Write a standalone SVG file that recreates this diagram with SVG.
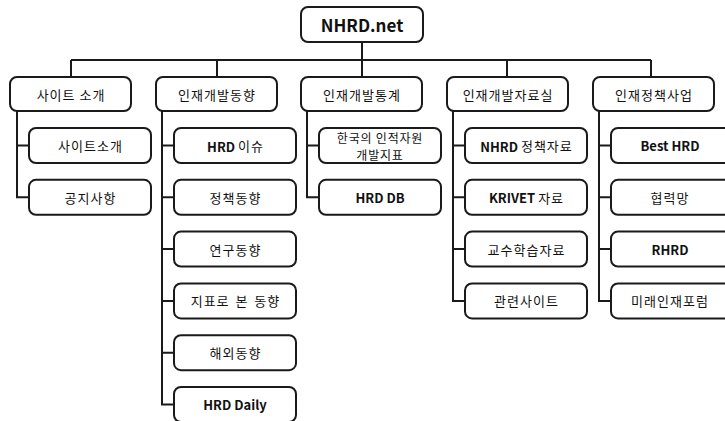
<svg xmlns="http://www.w3.org/2000/svg" width="725" height="421" viewBox="0 0 725 421">
<style>
.box{fill:#fff;stroke:#1a1a1a;stroke-width:2}
.ln{fill:none;stroke:#1a1a1a;stroke-width:2}
text{font-family:"Noto Sans CJK KR","Noto Sans",sans-serif;fill:#111;text-anchor:middle;dominant-baseline:central}
.t0{font-size:17px;font-weight:bold}
.t1{font-size:13px;letter-spacing:1px}
.t2{font-size:13px;letter-spacing:1px}
.t3{font-size:12px;letter-spacing:0.8px}
.b{font-weight:bold;letter-spacing:0}
</style>
<rect width="725" height="421" fill="#fff"/>
<g id="connectors">
<path class="ln" d="M362,42V60M71,60H651M71,60V77M217,60V77M362,60V77M507,60V77M651,60V77"/>
<path class="ln" d="M17,111V197.3H29M17,145.5H29"/>
<path class="ln" d="M162,111V404.5H174M162,145.5H174M162,197.3H174M162,249.1H174M162,300.9H174M162,352.7H174"/>
<path class="ln" d="M307,111V197.3H319M307,145.5H319"/>
<path class="ln" d="M453,111V300.9H465M453,145.5H465M453,197.3H465M453,249.1H465"/>
<path class="ln" d="M599,111V300.9H611M599,145.5H611M599,197.3H611M599,249.1H611"/>
</g>
<g id="root"><rect class="box" x="301" y="7" width="122" height="35" rx="7"/><text class="t0" x="362" y="24.5">NHRD.net</text></g>
<g id="n1"><rect class="box" x="10" y="77" width="121" height="34" rx="7"/><text class="t1" x="71" y="94">사이트 소개</text></g>
<g id="n2"><rect class="box" x="156" y="77" width="121" height="34" rx="7"/><text class="t1" x="217" y="94">인재개발동향</text></g>
<g id="n3"><rect class="box" x="301" y="77" width="121" height="34" rx="7"/><text class="t1" x="362" y="94">인재개발통계</text></g>
<g id="n4"><rect class="box" x="447" y="77" width="121" height="34" rx="7"/><text class="t1" x="508" y="94">인재개발자료실</text></g>
<g id="n5"><rect class="box" x="593" y="77" width="121" height="34" rx="7"/><text class="t1" x="654" y="94">인재정책사업</text></g>

<g id="n1a"><rect class="box" x="29" y="128" width="122" height="35" rx="7"/><text class="t2" x="90.5" y="145.5">사이트소개</text></g>
<g id="n1b"><rect class="box" x="29" y="179.8" width="122" height="35" rx="7"/><text class="t2" x="90.5" y="197.3">공지사항</text></g>

<g id="n2a"><rect class="box" x="174" y="128" width="122" height="35" rx="7"/><text class="t2" x="235.5" y="145.5"><tspan class="b">HRD </tspan>이슈</text></g>
<g id="n2b"><rect class="box" x="174" y="179.8" width="122" height="35" rx="7"/><text class="t2" x="235.5" y="197.3">정책동향</text></g>
<g id="n2c"><rect class="box" x="174" y="231.6" width="122" height="35" rx="7"/><text class="t2" x="235.5" y="249.1">연구동향</text></g>
<g id="n2d"><rect class="box" x="174" y="283.4" width="122" height="35" rx="7"/><text class="t2" x="235.5" y="300.9" word-spacing="2">지표로 본 동향</text></g>
<g id="n2e"><rect class="box" x="174" y="335.2" width="122" height="35" rx="7"/><text class="t2" x="235.5" y="352.7">해외동향</text></g>
<g id="n2f"><rect class="box" x="174" y="387" width="122" height="35" rx="7"/><text class="t2 b" x="235" y="404.5">HRD Daily</text></g>

<g id="n3a"><rect class="box" x="319" y="128" width="122" height="35" rx="7"/><text class="t3" x="380" y="137">한국의 인적자원</text><text class="t3" x="380" y="154.5">개발지표</text></g>
<g id="n3b"><rect class="box" x="319" y="179.8" width="122" height="35" rx="7"/><text class="t2 b" x="380" y="197.3">HRD DB</text></g>

<g id="n4a"><rect class="box" x="465" y="128" width="122" height="35" rx="7"/><text class="t2" x="526.5" y="145.5"><tspan class="b">NHRD </tspan>정책자료</text></g>
<g id="n4b"><rect class="box" x="465" y="179.8" width="122" height="35" rx="7"/><text class="t2" x="526.5" y="197.3"><tspan class="b">KRIVET </tspan>자료</text></g>
<g id="n4c"><rect class="box" x="465" y="231.6" width="122" height="35" rx="7"/><text class="t2" x="526.5" y="249.1">교수학습자료</text></g>
<g id="n4d"><rect class="box" x="465" y="283.4" width="122" height="35" rx="7"/><text class="t2" x="526.5" y="300.9">관련사이트</text></g>

<g id="n5a"><rect class="box" x="611" y="128" width="122" height="35" rx="7"/><text class="t2 b" x="670" y="145.5">Best HRD</text></g>
<g id="n5b"><rect class="box" x="611" y="179.8" width="122" height="35" rx="7"/><text class="t2" x="670" y="197.3">협력망</text></g>
<g id="n5c"><rect class="box" x="611" y="231.6" width="122" height="35" rx="7"/><text class="t2 b" x="670" y="249.1">RHRD</text></g>
<g id="n5d"><rect class="box" x="611" y="283.4" width="122" height="35" rx="7"/><text class="t2" x="670" y="300.9">미래인재포럼</text></g>
</svg>
